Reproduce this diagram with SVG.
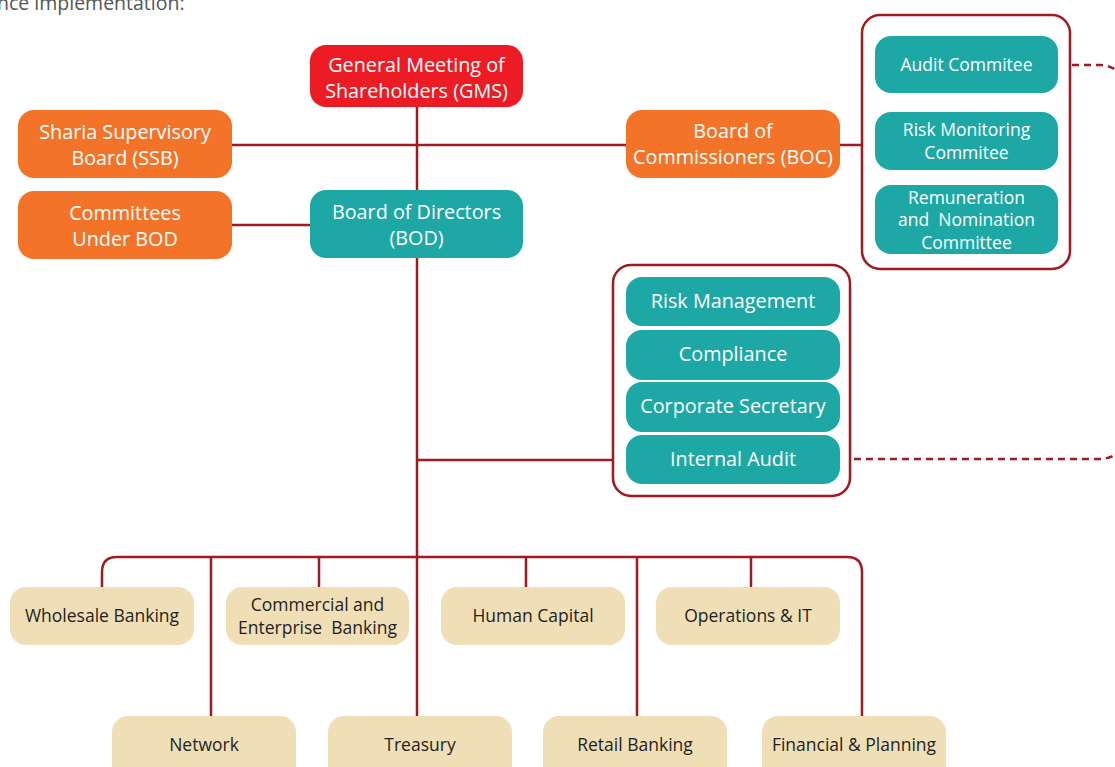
<svg xmlns="http://www.w3.org/2000/svg" width="1115" height="767" viewBox="0 0 1115 767">
<style>
.t{font-family:"Open Sans","Noto Sans",sans-serif;text-anchor:middle}
.w{fill:#ffffff;font-size:19.8px}
.ws{fill:#ffffff;font-size:17.5px}
.d{fill:#231f20;font-size:17.5px}
.pre{white-space:pre}
.red{fill:#ed1c24}
.or{fill:#f37329}
.tl{fill:#1da8a6}
.bg{fill:#f0dfb6}
.ln{stroke:#9e1b20;stroke-width:2.5;fill:none}
.grp{stroke:#9e1b20;stroke-width:2.5;fill:#ffffff}
.dash{stroke:#9e1b20;stroke-width:2.5;fill:none;stroke-dasharray:7 5}
</style>
<rect width="1115" height="767" fill="#ffffff"/>
<text x="-3" y="10" style="font-family:'Open Sans',sans-serif;font-size:19.5px;fill:#555">nce implementation:</text>
<g id="connectors">
<path class="ln" d="M417 107 V190 M417 258 V716 M232 145 H626 M232 225 H310 M840 145 H862 M417 460 H613"/>
<path class="ln" d="M102 587 V572 Q102 557 117 557 H847 Q862 557 862 572 V716"/>
<path class="ln" d="M211 557 V716 M319 557 V587 M526 557 V587 M637 557 V716 M751 557 V587"/>
<path class="dash" d="M1060 65 H1100 Q1112 65 1122 75"/>
<path class="dash" d="M842 459 H1100 Q1112 459 1122 449"/>
</g>
<g id="gms"><rect class="red" x="310" y="45" width="213" height="62" rx="16"/><text class="t w" x="416.5" y="72">General Meeting of</text><text class="t w" x="416.5" y="98">Shareholders (GMS)</text></g>
<g id="ssb"><rect class="or" x="18" y="110" width="214" height="68" rx="16"/><text class="t w" x="125" y="139">Sharia Supervisory</text><text class="t w" x="125" y="165">Board (SSB)</text></g>
<g id="boc"><rect class="or" x="626" y="110" width="214" height="68" rx="16"/><text class="t w" x="733" y="138">Board of</text><text class="t w" x="733" y="164">Commissioners (BOC)</text></g>
<g id="cub"><rect class="or" x="18" y="191" width="214" height="68" rx="16"/><text class="t w" x="125" y="220">Committees</text><text class="t w" x="125" y="246">Under BOD</text></g>
<g id="bod"><rect class="tl" x="310" y="190" width="213" height="68" rx="16"/><text class="t w" x="416.5" y="219">Board of Directors</text><text class="t w" x="416.5" y="245">(BOD)</text></g>
<g id="boc-committees">
<rect class="grp" x="862" y="15" width="208" height="254" rx="18"/>
<g id="audit-committee"><rect class="tl" x="875" y="36" width="183" height="57" rx="16"/><text class="t ws" x="966.5" y="71">Audit Commitee</text></g>
<g id="risk-monitoring"><rect class="tl" x="875" y="112" width="183" height="58" rx="16"/><text class="t ws" x="966.5" y="136">Risk Monitoring</text><text class="t ws" x="966.5" y="159">Commitee</text></g>
<g id="remuneration"><rect class="tl" x="875" y="185" width="183" height="69" rx="16"/><text class="t ws" x="966.5" y="204">Remuneration</text><text class="t ws pre" x="966.5" y="226">and  Nomination</text><text class="t ws" x="966.5" y="249">Committee</text></g>
</g>
<g id="bod-units">
<rect class="grp" x="613" y="265" width="237" height="231" rx="18"/>
<g id="risk-management"><rect class="tl" x="626" y="277" width="214" height="49" rx="16"/><text class="t w" x="733" y="308">Risk Management</text></g>
<g id="compliance"><rect class="tl" x="626" y="330" width="214" height="50" rx="16"/><text class="t w" x="733" y="361">Compliance</text></g>
<g id="corporate-secretary"><rect class="tl" x="626" y="382" width="214" height="50" rx="16"/><text class="t w" x="733" y="413">Corporate Secretary</text></g>
<g id="internal-audit"><rect class="tl" x="626" y="435" width="214" height="49" rx="16"/><text class="t w" x="733" y="466">Internal Audit</text></g>
</g>
<g id="wholesale"><rect class="bg" x="10" y="587" width="184" height="58" rx="16"/><text class="t d" x="102" y="622">Wholesale Banking</text></g>
<g id="commercial"><rect class="bg" x="226" y="587" width="183" height="58" rx="16"/><text class="t d" x="317.5" y="611">Commercial and</text><text class="t d pre" x="317.5" y="634">Enterprise  Banking</text></g>
<g id="human-capital"><rect class="bg" x="441" y="587" width="184" height="58" rx="16"/><text class="t d" x="533" y="622">Human Capital</text></g>
<g id="operations"><rect class="bg" x="656" y="587" width="184" height="58" rx="16"/><text class="t d" x="748" y="622">Operations &amp; IT</text></g>
<g id="network"><rect class="bg" x="112" y="716" width="184" height="70" rx="16"/><text class="t d" x="204" y="751">Network</text></g>
<g id="treasury"><rect class="bg" x="328" y="716" width="184" height="70" rx="16"/><text class="t d" x="420" y="751">Treasury</text></g>
<g id="retail"><rect class="bg" x="543" y="716" width="184" height="70" rx="16"/><text class="t d" x="635" y="751">Retail Banking</text></g>
<g id="financial"><rect class="bg" x="762" y="716" width="184" height="70" rx="16"/><text class="t d" x="854" y="751">Financial &amp; Planning</text></g>
</svg>
